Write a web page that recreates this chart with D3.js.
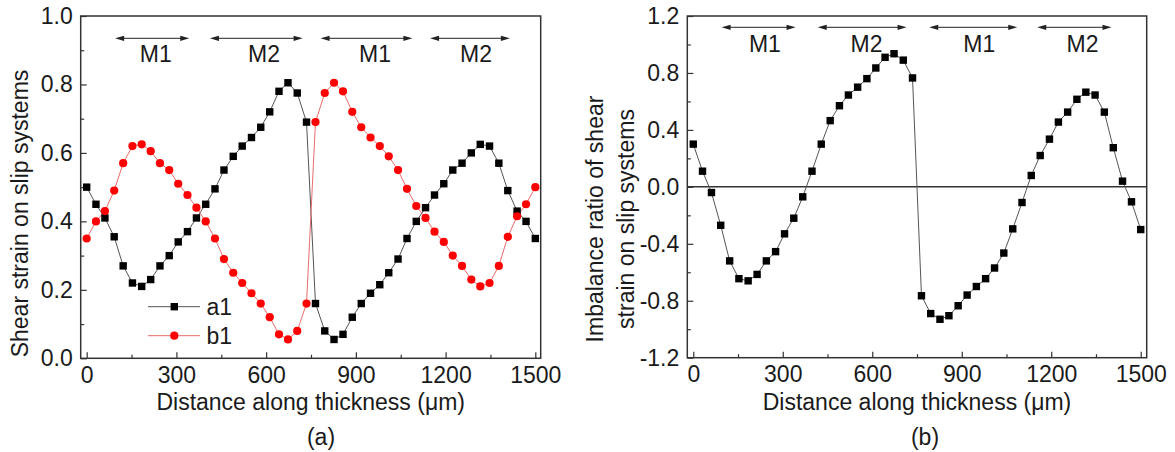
<!DOCTYPE html>
<html><head><meta charset="utf-8">
<script src="https://cdn.jsdelivr.net/npm/d3@7"></script>
<style>body{margin:0;background:#fff}text{font-family:"Liberation Sans",Arial,sans-serif;fill:#1a1a1a}</style>
</head><body><svg id="c" width="1175" height="452"></svg>
<script>
const distance=[0,31,61,92,122,153,184,214,245,276,306,337,367,398,429,459,490,520,551,582,612,643,673,704,735,765,796,827,857,888,918,949,980,1010,1041,1071,1102,1133,1163,1194,1224,1255,1286,1316,1347,1378,1408,1439,1469,1500];
const a1=[0.50,0.45,0.41,0.355,0.27,0.22,0.21,0.23,0.27,0.30,0.34,0.37,0.41,0.45,0.495,0.55,0.59,0.62,0.645,0.675,0.72,0.78,0.805,0.775,0.69,0.16,0.08,0.055,0.07,0.12,0.16,0.19,0.215,0.25,0.29,0.35,0.40,0.44,0.477,0.51,0.55,0.57,0.60,0.625,0.62,0.57,0.49,0.43,0.40,0.35];
const b1=[0.35,0.40,0.43,0.49,0.57,0.62,0.625,0.605,0.57,0.55,0.51,0.477,0.44,0.40,0.35,0.29,0.25,0.22,0.19,0.16,0.12,0.07,0.055,0.08,0.16,0.69,0.775,0.805,0.78,0.72,0.675,0.645,0.62,0.59,0.55,0.495,0.445,0.41,0.37,0.34,0.30,0.27,0.23,0.21,0.22,0.27,0.355,0.415,0.45,0.50];
const imbalance=[0.30,0.11,-0.04,-0.27,-0.52,-0.645,-0.66,-0.615,-0.52,-0.455,-0.33,-0.22,-0.07,0.11,0.30,0.465,0.57,0.645,0.70,0.76,0.835,0.91,0.935,0.89,0.765,-0.765,-0.89,-0.93,-0.905,-0.835,-0.76,-0.70,-0.645,-0.57,-0.465,-0.295,-0.11,0.08,0.22,0.335,0.455,0.525,0.615,0.665,0.645,0.525,0.275,0.04,-0.105,-0.30];
const xTicks=[0,300,600,900,1200,1500];
const xMinor=[150,450,750,1050,1350];
const yTicksA=[0,0.2,0.4,0.6,0.8,1.0];
const yTickLabelsA=["0.0","0.2","0.4","0.6","0.8","1.0"];
const yMinorA=[0.1,0.3,0.5,0.7,0.9];
const yTicksB=[-1.2,-0.8,-0.4,0,0.4,0.8,1.2];
const yTickLabelsB=["-1.2","-0.8","-0.4","0.0","0.4","0.8","1.2"];
const yMinorB=[-1.0,-0.6,-0.2,0.2,0.6,1.0];
const zoneLabels=["M1","M2","M1","M2"];
const zonesA=[[95,343],[412,722],[782,1089],[1148,1415]];
const zoneLabelPosA=[231,593,964,1302];
const zonesB=[[95,343],[417,715],[791,1086],[1153,1402]];
const zoneLabelPosB=[240,581,959,1305];

const svg=d3.select("#c");
svg.append("rect").attr("width",1175).attr("height",452).attr("fill","#fff");
const FS=23, axisCol="#333";

function panel(o){
  const g=svg.append("g");
  const x=o.x, y=o.y;
  const [x0,x1]=x.range(), [yb,yt]=y.range();
  g.append("g").attr("transform",`translate(0,${yb})`)
    .call(d3.axisBottom(x).tickValues(xTicks).tickSize(-6).tickSizeOuter(0).tickPadding(8).tickFormat(d3.format("d")));
  g.append("g").attr("transform",`translate(0,${yb})`)
    .call(d3.axisBottom(x).tickValues(xMinor).tickSize(-3.5).tickSizeOuter(0).tickFormat(""));
  g.append("g").attr("transform",`translate(${x0},0)`)
    .call(d3.axisLeft(y).tickValues(o.yTicks).tickSize(-6).tickSizeOuter(0).tickPadding(8).tickFormat((d,i)=>o.yLabels[i]));
  g.append("g").attr("transform",`translate(${x0},0)`)
    .call(d3.axisLeft(y).tickValues(o.yMinor).tickSize(-3.5).tickSizeOuter(0).tickFormat(""));
  g.selectAll(".domain").remove();
  g.selectAll(".tick line").attr("stroke",axisCol).attr("stroke-width",1.2);
  g.selectAll(".tick text").attr("font-size",FS).attr("fill","#1a1a1a").attr("font-family","Liberation Sans, Arial, sans-serif");
  g.append("rect").attr("x",x0).attr("y",yt).attr("width",x1-x0).attr("height",yb-yt)
    .attr("fill","none").attr("stroke",axisCol).attr("stroke-width",1.5);
  const ay=o.arrowY;
  o.zones.forEach((z,i)=>{
    const xa=x(z[0]), xb=x(z[1]);
    g.append("line").attr("x1",xa+6).attr("x2",xb-6).attr("y1",ay).attr("y2",ay).attr("stroke","#222").attr("stroke-width",1);
    g.append("path").attr("d",`M${xa},${ay}L${xa+9},${ay-2.6}L${xa+9},${ay+2.6}Z`).attr("fill","#222");
    g.append("path").attr("d",`M${xb},${ay}L${xb-9},${ay-2.6}L${xb-9},${ay+2.6}Z`).attr("fill","#222");
    g.append("text").attr("x",x(o.labelPos[i])).attr("y",o.labelY).attr("text-anchor","middle").attr("font-size",FS).text(zoneLabels[i]);
  });
  return g;
}

// Panel (a)
const xA=d3.scaleLinear([-20,1518],[80.7,540.7]);
const yA=d3.scaleLinear([0,1],[358.3,16]);
const gA=panel({x:xA,y:yA,yTicks:yTicksA,yLabels:yTickLabelsA,yMinor:yMinorA,zones:zonesA,labelPos:zoneLabelPosA,arrowY:38.3,labelY:61.7});
const lineA=d3.line().x((d,i)=>xA(distance[i])).y(d=>yA(d));
gA.append("path").datum(a1).attr("d",lineA).attr("fill","none").attr("stroke","#555").attr("stroke-width",1);
gA.append("path").datum(b1).attr("d",lineA).attr("fill","none").attr("stroke","#ec6b6b").attr("stroke-width",1);
gA.selectAll("rect.a1").data(a1).join("rect").attr("class","a1")
  .attr("x",(d,i)=>xA(distance[i])-3.7).attr("y",d=>yA(d)-3.7).attr("width",7.4).attr("height",7.4).attr("fill","#000");
gA.selectAll("circle.b1").data(b1).join("circle").attr("class","b1")
  .attr("cx",(d,i)=>xA(distance[i])).attr("cy",d=>yA(d)).attr("r",4.1).attr("fill","#f00");
const leg=[{n:"a1",y:306.7,c:"#555",m:"sq"},{n:"b1",y:335.7,c:"#ec6b6b",m:"ci"}];
leg.forEach(l=>{
  gA.append("line").attr("x1",148).attr("x2",200).attr("y1",l.y).attr("y2",l.y).attr("stroke",l.c).attr("stroke-width",1);
  if(l.m==="sq") gA.append("rect").attr("x",174.3-3.7).attr("y",l.y-3.7).attr("width",7.4).attr("height",7.4).attr("fill","#000");
  else gA.append("circle").attr("cx",174.3).attr("cy",l.y).attr("r",4.1).attr("fill","#f00");
  gA.append("text").attr("x",206.5).attr("y",l.y+8).attr("font-size",FS).text(l.n);
});
svg.append("text").attr("x",310.7).attr("y",410).attr("text-anchor","middle").attr("font-size",FS).text("Distance along thickness (\u03bcm)");
svg.append("text").attr("x",321).attr("y",445).attr("text-anchor","middle").attr("font-size",FS).text("(a)");
svg.append("text").attr("transform","translate(28,213.5) rotate(-90)").attr("text-anchor","middle").attr("font-size",FS).text("Shear strain on slip systems");

// Panel (b)
const xB=d3.scaleLinear([-20,1520],[687.3,1146.7]);
const yB=d3.scaleLinear([-1.2,1.2],[357.7,16]);
const gB=panel({x:xB,y:yB,yTicks:yTicksB,yLabels:yTickLabelsB,yMinor:yMinorB,zones:zonesB,labelPos:zoneLabelPosB,arrowY:27.3,labelY:51.7});
gB.append("line").attr("x1",xB.range()[0]).attr("x2",xB.range()[1]).attr("y1",yB(0)).attr("y2",yB(0)).attr("stroke",axisCol).attr("stroke-width",1.5);
const lineB=d3.line().x((d,i)=>xB(distance[i])).y(d=>yB(d));
gB.append("path").datum(imbalance).attr("d",lineB).attr("fill","none").attr("stroke","#555").attr("stroke-width",1);
gB.selectAll("rect.im").data(imbalance).join("rect").attr("class","im")
  .attr("x",(d,i)=>xB(distance[i])-3.7).attr("y",d=>yB(d)-3.7).attr("width",7.4).attr("height",7.4).attr("fill","#000");
svg.append("text").attr("x",917).attr("y",410).attr("text-anchor","middle").attr("font-size",FS).text("Distance along thickness (\u03bcm)");
svg.append("text").attr("x",925).attr("y",445).attr("text-anchor","middle").attr("font-size",FS).text("(b)");
const tB=svg.append("text").attr("transform","translate(603,219) rotate(-90)").attr("text-anchor","middle").attr("font-size",FS);
tB.append("tspan").attr("x",0).attr("dy",0).text("Imbalance ratio of shear");
tB.append("tspan").attr("x",0).attr("dy",31).text("strain on slip systems");
</script></body></html>
